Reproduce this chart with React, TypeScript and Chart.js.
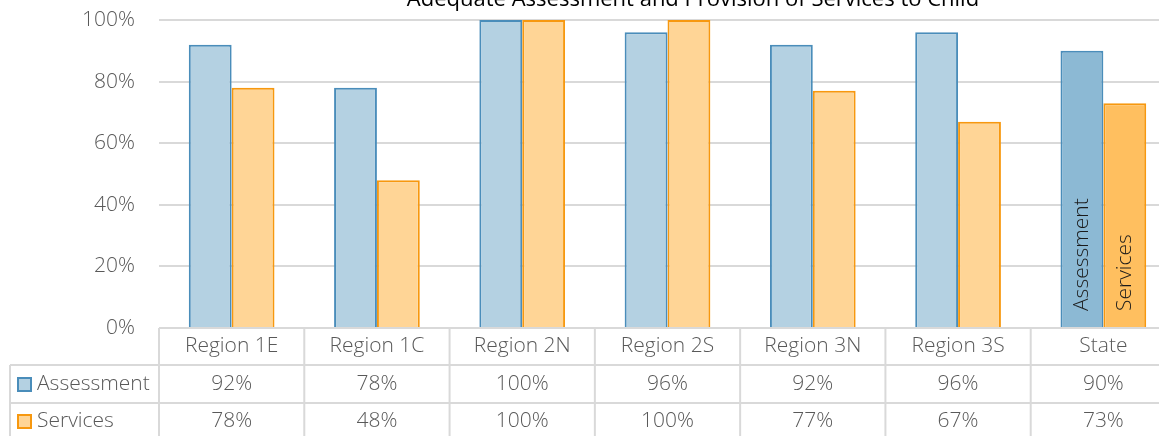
import React, { useEffect, useRef } from 'react';
import { Chart, registerables } from 'chart.js';
Chart.register(...registerables);

const chartTitle = 'Adequate Assessment and Provision of Services to Child';
const categories = ['Region 1E', 'Region 1C', 'Region 2N', 'Region 2S', 'Region 3N', 'Region 3S', 'State'];
const seriesNames = ['Assessment', 'Services'];
const assessment = [92, 78, 100, 96, 92, 96, 90];
const services = [78, 48, 100, 100, 77, 67, 73];
const yTickValues = [0, 20, 40, 60, 80, 100];

const FONT = '"Open Sans", sans-serif';
const GRID = '#d9d9d9';
const TEXT = '#595959';
const fills = [
  { light: '#b4d1e2', dark: '#8cb9d4', border: '#4a8dba' },
  { light: '#ffd596', dark: '#ffbf5f', border: '#f7980f' },
];

const tablePlugin = {
  id: 'tablePlugin',
  afterDraw(chart: any) {
    const ctx = chart.ctx;
    const x = chart.scales.x;
    const n = categories.length;
    const w = (x.right - x.left) / n;
    const top = chart.chartArea.bottom;
    const r1 = top + 37;
    const r2 = r1 + 38;
    const bottom = chart.height;
    const leftCol = 10;
    ctx.save();
    ctx.strokeStyle = GRID;
    ctx.lineWidth = 2;
    ctx.beginPath();
    ctx.moveTo(x.left, top);
    ctx.lineTo(chart.width, top);
    ctx.moveTo(leftCol, r1);
    ctx.lineTo(chart.width, r1);
    ctx.moveTo(leftCol, r2);
    ctx.lineTo(chart.width, r2);
    for (let i = 0; i <= n; i++) {
      const xx = x.left + i * w;
      ctx.moveTo(xx, top);
      ctx.lineTo(xx, bottom);
    }
    ctx.moveTo(leftCol, r1);
    ctx.lineTo(leftCol, bottom);
    ctx.stroke();

    ctx.fillStyle = TEXT;
    ctx.font = `300 21px ${FONT}`;
    ctx.textAlign = 'center';
    ctx.textBaseline = 'middle';
    const rows = [assessment, services];
    const rowMid = [(r1 + r2) / 2, (r2 + bottom + 3) / 2];
    for (let i = 0; i < n; i++) {
      const cx = x.getPixelForValue(i);
      ctx.fillText(categories[i], cx, (top + r1) / 2);
      rows.forEach((vals, k) => ctx.fillText(vals[i] + '%', cx, rowMid[k]));
    }
    ctx.textAlign = 'left';
    seriesNames.forEach((name, k) => {
      const cy = rowMid[k];
      ctx.fillStyle = fills[k].light;
      ctx.fillRect(18, cy - 6, 13, 13);
      ctx.strokeStyle = fills[k].border;
      ctx.lineWidth = 2;
      ctx.strokeRect(18, cy - 6, 13, 13);
      ctx.fillStyle = TEXT;
      ctx.fillText(name, 37, cy);
    });

    ctx.fillStyle = '#000';
    ctx.font = `22px ${FONT}`;
    ctx.textAlign = 'center';
    ctx.textBaseline = 'alphabetic';
    ctx.fillText(chartTitle, 693, 6);
    ctx.restore();
  },
  afterDatasetsDraw(chart: any) {
    const ctx = chart.ctx;
    const idx = categories.length - 1;
    ctx.save();
    ctx.fillStyle = '#1a1a1a';
    ctx.font = `300 21px ${FONT}`;
    ctx.textAlign = 'left';
    ctx.textBaseline = 'middle';
    [0, 1].forEach((d) => {
      const bar: any = chart.getDatasetMeta(d).data[idx];
      ctx.save();
      ctx.translate(bar.x, bar.base - 16);
      ctx.rotate(-Math.PI / 2);
      ctx.fillText(seriesNames[d], 0, 0);
      ctx.restore();
    });
    ctx.restore();
  },
};

export default function App() {
  const ref = useRef<HTMLCanvasElement>(null);
  useEffect(() => {
    document.body.style.margin = '0';
    document.body.style.overflow = 'hidden';
    const chart = new Chart(ref.current!, {
      type: 'bar',
      data: {
        labels: categories,
        datasets: [assessment, services].map((vals, k) => ({
          label: seriesNames[k],
          data: vals,
          backgroundColor: categories.map((c) => (c === 'State' ? fills[k].dark : fills[k].light)),
          borderColor: fills[k].border,
          borderWidth: 2,
          categoryPercentage: 0.59,
          barPercentage: 1,
        })),
      },
      options: {
        responsive: false,
        animation: false,
        devicePixelRatio: 1,
        layout: { padding: { top: 20, bottom: 108, left: 0, right: 0 } },
        plugins: { legend: { display: false }, title: { display: false }, tooltip: { enabled: false } },
        scales: {
          x: { display: false },
          y: {
            min: 0,
            max: 100,
            afterFit: (s: any) => {
              s.width = 159;
              s.paddingTop = 0;
              s.paddingBottom = 0;
            },
            afterBuildTicks: (s: any) => { s.ticks = yTickValues.map((v) => ({ value: v })); },
            ticks: {
              padding: 24,
              color: TEXT,
              font: { family: FONT, size: 21, weight: '300' as any },
              callback: (v: any) => v + '%',
            },
            grid: { color: GRID, lineWidth: 2, drawTicks: false },
            border: { display: false },
          },
        },
      },
      plugins: [tablePlugin],
    });
    return () => chart.destroy();
  }, []);
  return (
    <div style={{ width: 1159, height: 436, overflow: 'hidden' }}>
      <canvas ref={ref} width={1176} height={436} style={{ display: 'block' }} />
    </div>
  );
}
